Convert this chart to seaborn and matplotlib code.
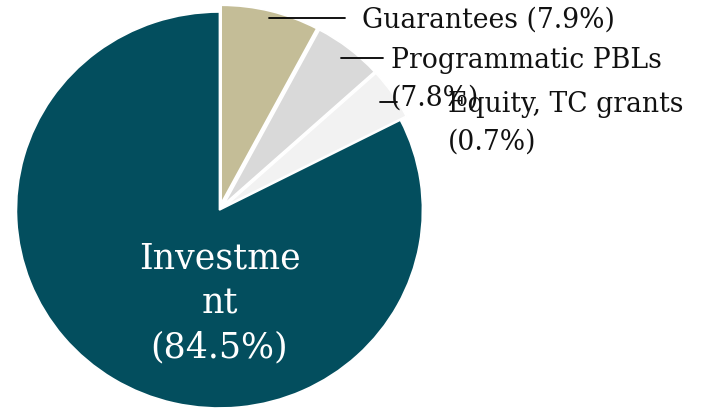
import numpy as np
import seaborn as sns
import matplotlib.pyplot as plt

# slice shares as drawn and the label text shown
categories = ["Guarantees", "Programmatic PBLs", "Equity, TC grants", "Investment"]
shares = [7.8, 5.5, 4.2, 82.5]
label_text = ["Guarantees (7.9%)", "Programmatic PBLs\n(7.8%)",
              "Equity, TC grants\n(0.7%)", "Investme\nnt\n(84.5%)"]
colors = ["#C4BD97", "#D9D9D9", "#F2F2F2", "#034E5E"]

sns.set_theme(style="white")
plt.rcParams["font.family"] = ["DejaVu Serif"]

fig = plt.figure(figsize=(7.02, 4.08), dpi=100)
ax = fig.add_axes([0, 0, 1, 1])

explode = [0.035, 0.035, 0.035, 0]
wedges, _ = ax.pie(
    shares,
    colors=colors,
    startangle=90,
    counterclock=False,
    explode=explode,
    radius=1.0,
    wedgeprops=dict(edgecolor="white", linewidth=1.2),
)

# pie centre near pixel (219, 210), slightly wider than tall like the original
ax.set_aspect("auto")
ax.set_xlim(-1.081, 2.377)
ax.set_ylim(-1.0, 1.0606)
ax.axis("off")

# outside labels with short horizontal leader lines
line_end = [0.618, 0.805, 0.874]
text_x = [0.702, 0.845, 1.126]
start_r = [0.965, 0.94, 0.925]
for i in range(3):
    w = wedges[i]
    mid = np.deg2rad((w.theta1 + w.theta2) / 2)
    cx, cy = w.center
    x0 = cx + start_r[i] * np.cos(mid)
    y0 = cy + start_r[i] * np.sin(mid)
    ax.plot([x0, line_end[i]], [y0, y0], color="black", lw=1.3)
    ax.text(text_x[i], y0 + 0.055, label_text[i], ha="left", va="top",
            fontsize=19.2, color="#111111", linespacing=1.5)

# inside label for the big slice
ax.text(0.0, -0.47, label_text[3], ha="center", va="center",
        fontsize=25, color="white", linespacing=1.38)

plt.savefig("out.png", dpi=100)
